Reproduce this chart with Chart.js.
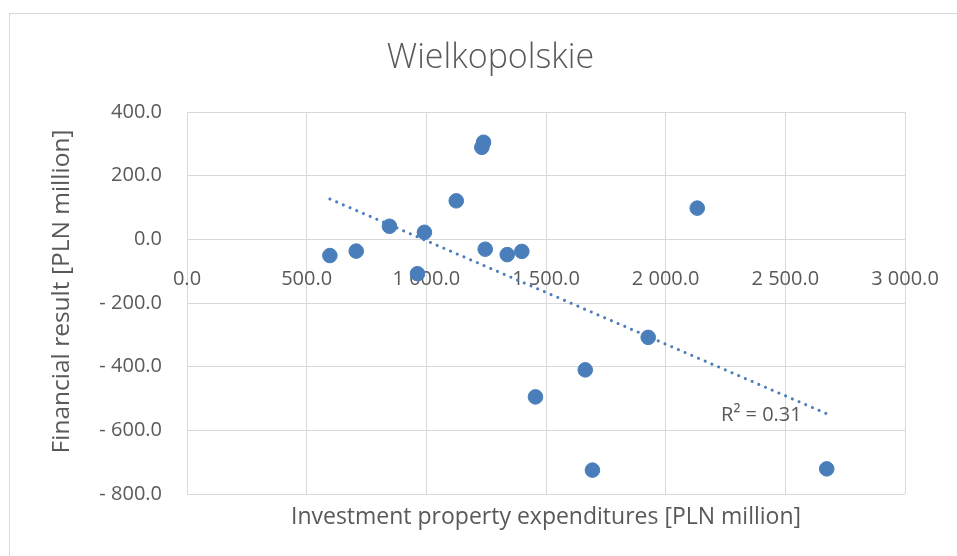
<!DOCTYPE html>
<html>
<head>
<meta charset="utf-8">
<script src="https://cdn.jsdelivr.net/npm/chart.js@4.4.1/dist/chart.umd.min.js"></script>
<style>
  html, body { margin: 0; padding: 0; background: #ffffff; }
  #wrap { width: 957px; height: 556px; position: relative; }
</style>
</head>
<body>
<div id="wrap"><canvas id="c" width="957" height="556"></canvas></div>
<script>
// ---- data ----
const chartTitle = "Wielkopolskie";
const xTitle = "Investment property expenditures [PLN million]";
const yTitle = "Financial result [PLN million]";
const rSquaredLabel = "R\u00B2 = 0.31";

const investmentExpenditures = [597, 707, 846, 992, 963, 1125, 1239, 1232, 1246, 1338, 1399, 1927, 1664, 1456, 1694, 2673, 2132];
const financialResult        = [-51, -37, 41, 22, -108, 121, 305, 289, -31, -48, -38, -308, -410, -495, -725, -721, 98];

const xTicks = [0, 500, 1000, 1500, 2000, 2500, 3000];
const yTicks = [-800, -600, -400, -200, 0, 200, 400];

// ---- derived ----
const points = investmentExpenditures.map((x, i) => ({ x: x, y: financialResult[i] }));

// least-squares linear trend line
const n = points.length;
const mx = investmentExpenditures.reduce((a, b) => a + b, 0) / n;
const my = financialResult.reduce((a, b) => a + b, 0) / n;
let sxy = 0, sxx = 0;
for (let i = 0; i < n; i++) {
  sxy += (investmentExpenditures[i] - mx) * (financialResult[i] - my);
  sxx += (investmentExpenditures[i] - mx) ** 2;
}
const slope = sxy / sxx;
const intercept = my - slope * mx;
const xMin = Math.min(...investmentExpenditures);
const xMax = Math.max(...investmentExpenditures);
const trend = [
  { x: xMin, y: intercept + slope * xMin },
  { x: xMax, y: intercept + slope * xMax }
];

function fmt(v) {
  const s = Math.abs(v).toFixed(1);
  const parts = s.split('.');
  const intPart = parts[0].replace(/\B(?=(\d{3})+(?!\d))/g, ' ');
  return (v < 0 ? '- ' : '') + intPart + '.' + parts[1];
}

const TXT = '#595959';
const GRID = '#d9d9d9';
const BLUE = '#4a7ebb';
const FONT = "'Open Sans', 'DejaVu Sans', sans-serif";

const framePlugin = {
  id: 'frame',
  beforeDraw(chart) {
    const ctx = chart.ctx;
    ctx.save();
    ctx.strokeStyle = GRID;
    ctx.lineWidth = 1;
    ctx.strokeRect(9.5, 13.5, 960, 560);
    ctx.restore();
  }
};

const annotPlugin = {
  id: 'annot',
  afterDraw(chart) {
    const ctx = chart.ctx;
    const xs = chart.scales.x, ys = chart.scales.y;
    const ca = chart.chartArea;
    ctx.save();
    // y axis title
    ctx.fillStyle = TXT;
    ctx.font = "24.5px " + FONT;
    ctx.textAlign = 'center';
    ctx.textBaseline = 'middle';
    ctx.translate(62, (ca.top + ca.bottom) / 2 - 11.5);
    ctx.rotate(-Math.PI / 2);
    ctx.fillText(yTitle, 0, 0);
    ctx.restore();

    // R² label near end of trend line
    const ex = xs.getPixelForValue(trend[1].x);
    const ey = ys.getPixelForValue(trend[1].y);
    ctx.save();
    ctx.fillStyle = TXT;
    ctx.font = "20px " + FONT;
    ctx.textAlign = 'right';
    ctx.textBaseline = 'middle';
    ctx.fillText(rSquaredLabel, ex - 25, ey + 2);
    ctx.restore();
  }
};

new Chart(document.getElementById('c'), {
  type: 'scatter',
  data: {
    datasets: [
      {
        label: 'Data',
        data: points,
        backgroundColor: BLUE,
        borderColor: BLUE,
        pointRadius: 7.3,
        pointHoverRadius: 7.3,
        borderWidth: 1,
        order: 1
      },
      {
        label: 'Trend',
        type: 'line',
        data: trend,
        showLine: true,
        fill: false,
        borderColor: BLUE,
        borderWidth: 3,
        borderDash: [0.1, 7.2],
        borderCapStyle: 'round',
        pointRadius: 0,
        order: 2
      }
    ]
  },
  options: {
    responsive: false,
    animation: false,
    events: [],
    layout: { padding: { left: 24, right: 0, top: 0, bottom: 0 } },
    plugins: {
      legend: { display: false },
      tooltip: { enabled: false },
      title: {
        display: true,
        text: chartTitle,
        color: TXT,
        font: { family: FONT, size: 34, weight: '300', lineHeight: 1.2 },
        padding: { top: 37.6, bottom: 33.6 }
      }
    },
    scales: {
      x: {
        type: 'linear',
        position: 'bottom',
        min: 0, max: 3000,
        afterBuildTicks: (s) => { s.ticks = xTicks.map(v => ({ value: v })); },
        grid: { color: GRID, lineWidth: 1, drawTicks: false },
        border: { display: false },
        ticks: { display: false },
        title: {
          display: true,
          text: xTitle,
          color: TXT,
          font: { family: FONT, size: 23, lineHeight: 1.2 },
          padding: { top: 0, bottom: 25.2 }
        },
        afterFit: (s) => { s.height = 62; }
      },
      xz: {
        type: 'linear',
        position: { y: 0 },
        min: 0, max: 3000,
        afterBuildTicks: (s) => { s.ticks = xTicks.map(v => ({ value: v })); },
        grid: { display: false, drawTicks: false },
        border: { display: false },
        ticks: {
          color: TXT,
          font: { family: FONT, size: 20, lineHeight: 4 },
          padding: 0,
          maxRotation: 0,
          autoSkip: false,
          callback: (v) => fmt(v)
        }
      },
      y: {
        type: 'linear',
        position: 'left',
        min: -800, max: 400,
        afterBuildTicks: (s) => { s.ticks = yTicks.map(v => ({ value: v })); },
        grid: { color: GRID, lineWidth: 1, drawTicks: false },
        border: { display: false },
        ticks: {
          color: TXT,
          font: { family: FONT, size: 20 },
          padding: 25,
          callback: (v) => fmt(v)
        },
        afterFit: (s) => { s.width = 163; }
      },
      yR: {
        type: 'linear',
        position: 'right',
        min: -800, max: 400,
        grid: { display: false, drawTicks: false },
        border: { display: false },
        ticks: { display: false },
        afterFit: (s) => { s.width = 52; }
      }
    }
  },
  plugins: [framePlugin, annotPlugin]
});
</script>
</body>
</html>
